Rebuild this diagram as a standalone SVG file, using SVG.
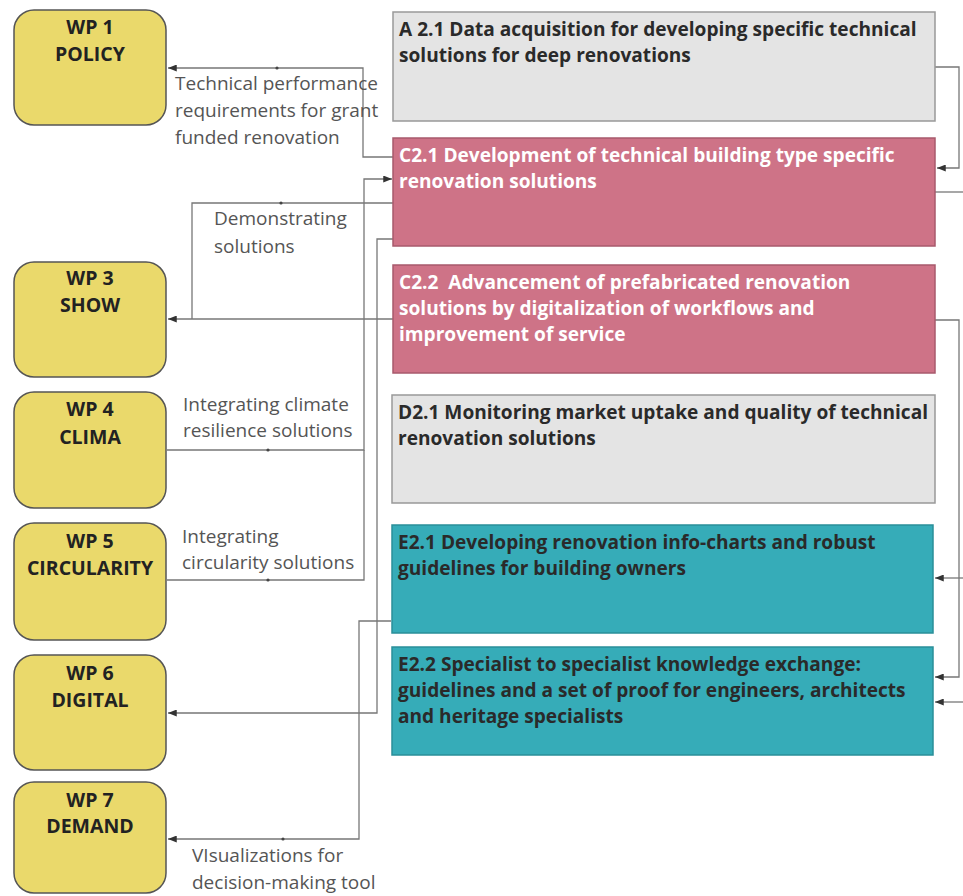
<svg xmlns="http://www.w3.org/2000/svg" width="963" height="896" viewBox="0 0 963 896">
<style>
.wp{fill:#EAD96B;stroke:#555;stroke-width:1.5}
.wpt{font-family:"Open Sans","Liberation Sans",sans-serif;font-weight:bold;font-size:19.5px;fill:#222;text-anchor:middle}
.bx{stroke-width:1.5}
.gray{fill:#E4E4E4;stroke:#999}
.pink{fill:#CE7387;stroke:#A85A6C}
.teal{fill:#36ACB8;stroke:#2A8F99}
.bt{font-family:"Open Sans","Liberation Sans",sans-serif;font-weight:bold;font-size:19.1px;fill:#2a2a2a}
.bw{fill:#fff}
.lbl{font-family:"Open Sans","Liberation Sans",sans-serif;font-size:19px;fill:#555}
.cn{fill:none;stroke:#777;stroke-width:1.3}
.dot{fill:#444}
</style>
<defs>
<marker id="ah" viewBox="0 0 10 8" refX="10" refY="4" markerWidth="9" markerHeight="7" markerUnits="userSpaceOnUse" orient="auto">
<path d="M0,0 L10,4 L0,8 z" fill="#333"/>
</marker>
</defs>

<g id="connectors">
<path class="cn" d="M393,157 H363 V68 H168" marker-end="url(#ah)"/>
<path class="cn" d="M393,203 H192 V319"/>
<path class="cn" d="M393,319 H168" marker-end="url(#ah)"/>
<path class="cn" d="M167,450 H364 V179 H392" marker-end="url(#ah)"/>
<path class="cn" d="M167,580 H364 V450"/>
<path class="cn" d="M393,239 H377 V713 H168" marker-end="url(#ah)"/>
<path class="cn" d="M391,621 H359 V839 H168" marker-end="url(#ah)"/>
<path class="cn" d="M935,67 H959 V168 H937" marker-end="url(#ah)"/>
<path class="cn" d="M935,192 H963"/>
<path class="cn" d="M935,320 H959 V677 H935" marker-end="url(#ah)"/>
<path class="cn" d="M963,578 H935" marker-end="url(#ah)"/>
<path class="cn" d="M963,702 H935" marker-end="url(#ah)"/>
<circle class="dot" cx="277" cy="68" r="1.6"/>
<circle class="dot" cx="281" cy="203" r="1.6"/>
<circle class="dot" cx="268" cy="450" r="1.6"/>
<circle class="dot" cx="268" cy="580" r="1.6"/>
<circle class="dot" cx="283" cy="839" r="1.6"/>
<text class="lbl" x="175" y="90">Technical performance</text>
<text class="lbl" x="175" y="117">requirements for grant</text>
<text class="lbl" x="175" y="144">funded renovation</text>
<text class="lbl" x="214" y="225">Demonstrating</text>
<text class="lbl" x="214" y="253">solutions</text>
<text class="lbl" x="183" y="411">Integrating climate</text>
<text class="lbl" x="183" y="437">resilience solutions</text>
<text class="lbl" x="182" y="543">Integrating</text>
<text class="lbl" x="182" y="569">circularity solutions</text>
<text class="lbl" x="192" y="862">VIsualizations for</text>
<text class="lbl" x="192" y="889">decision-making tool</text>
</g>

<g id="wp1"><rect class="wp" x="14" y="10" width="152" height="115" rx="20"/><text class="wpt" x="90" y="34">WP 1</text><text class="wpt" x="90" y="61">POLICY</text></g>
<g id="wp3"><rect class="wp" x="14" y="262" width="152" height="115" rx="20"/><text class="wpt" x="90" y="285">WP 3</text><text class="wpt" x="90" y="312">SHOW</text></g>
<g id="wp4"><rect class="wp" x="14" y="392" width="152" height="116" rx="20"/><text class="wpt" x="90" y="416">WP 4</text><text class="wpt" x="90" y="444">CLIMA</text></g>
<g id="wp5"><rect class="wp" x="14" y="523" width="152" height="117" rx="20"/><text class="wpt" x="90" y="548">WP 5</text><text class="wpt" x="90" y="575">CIRCULARITY</text></g>
<g id="wp6"><rect class="wp" x="14" y="655" width="152" height="115" rx="20"/><text class="wpt" x="90" y="680">WP 6</text><text class="wpt" x="90" y="707">DIGITAL</text></g>
<g id="wp7"><rect class="wp" x="14" y="782" width="152" height="111" rx="20"/><text class="wpt" x="90" y="807">WP 7</text><text class="wpt" x="90" y="833">DEMAND</text></g>

<g id="a21"><rect class="bx gray" x="393" y="12" width="542" height="109"/><text class="bt" x="399" y="36">A 2.1 Data acquisition for developing specific technical</text><text class="bt" x="399" y="62">solutions for deep renovations</text></g>
<g id="c21"><rect class="bx pink" x="393" y="138" width="542" height="108"/><text class="bt bw" x="399" y="162">C2.1 Development of technical building type specific</text><text class="bt bw" x="399" y="188">renovation solutions</text></g>
<g id="c22"><rect class="bx pink" x="393" y="265" width="542" height="108"/><text class="bt bw" x="399" y="289" xml:space="preserve">C2.2  Advancement of prefabricated renovation</text><text class="bt bw" x="399" y="315">solutions by digitalization of workflows and</text><text class="bt bw" x="399" y="341">improvement of service</text></g>
<g id="d21"><rect class="bx gray" x="392" y="395" width="543" height="108"/><text class="bt" x="398" y="419">D2.1 Monitoring market uptake and quality of technical</text><text class="bt" x="398" y="445">renovation solutions</text></g>
<g id="e21"><rect class="bx teal" x="392" y="525" width="541" height="108"/><text class="bt" x="398" y="549">E2.1 Developing renovation info-charts and robust</text><text class="bt" x="398" y="575">guidelines for building owners</text></g>
<g id="e22"><rect class="bx teal" x="392" y="647" width="541" height="108"/><text class="bt" x="398" y="671">E2.2 Specialist to specialist knowledge exchange:</text><text class="bt" x="398" y="697">guidelines and a set of proof for engineers, architects</text><text class="bt" x="398" y="723">and heritage specialists</text></g>
</svg>
